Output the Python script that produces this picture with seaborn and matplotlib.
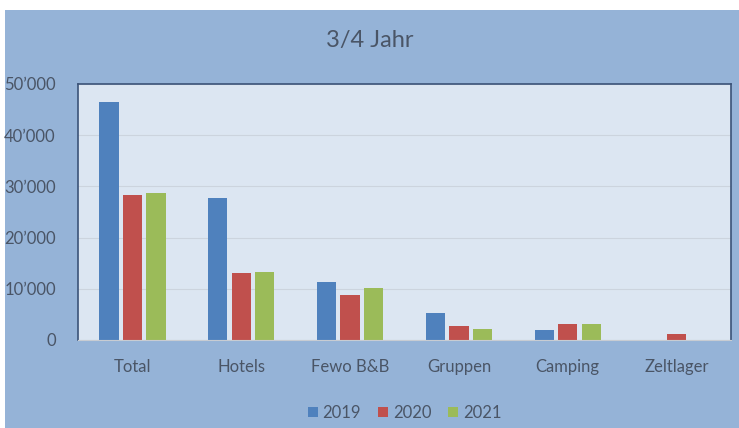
import pandas as pd
import seaborn as sns
import matplotlib.pyplot as plt
from matplotlib.patches import Rectangle
from matplotlib.ticker import FuncFormatter

# Values
categories = ['Total', 'Hotels', 'Fewo B&B', 'Gruppen', 'Camping', 'Zeltlager']
years = ['2019', '2020', '2021']
values_2019 = [46500, 27700, 11300, 5200, 2000, 0]
values_2020 = [28300, 13100, 8800, 2800, 3200, 1100]
values_2021 = [28700, 13300, 10200, 2100, 3200, 0]
colors = ['#4f81bd', '#c0504d', '#9bbb59']

df = pd.DataFrame({
    'Kategorie': categories * 3,
    'Jahr': [y for y in years for _ in categories],
    'Wert': values_2019 + values_2020 + values_2021,
})

sns.set_style('white')
plt.rcParams['font.family'] = ['Lato', 'DejaVu Sans']
text_col = '#4a5566'

fig = plt.figure(figsize=(7.39, 4.28), dpi=100, facecolor='white')
# blue chart frame below the white strip
fig.patches.append(Rectangle((5 / 739, 0), 1, 1 - 10 / 428, transform=fig.transFigure,
                             facecolor='#95b3d7', edgecolor='none', zorder=-5))

ax = fig.add_axes([78 / 739, 88 / 428, 653 / 739, 256 / 428])
ax.set_zorder(2)
ax.set_facecolor('#dce6f2')
sns.barplot(data=df, x='Kategorie', y='Wert', hue='Jahr', palette=colors,
            width=0.65, gap=0.18, saturation=1, linewidth=0, ax=ax)

ax.set_ylim(0, 50000)
ax.set_yticks(range(0, 50001, 10000))
ax.yaxis.set_major_formatter(FuncFormatter(lambda v, p: '0' if v == 0 else f"{int(v):,}".replace(',', '\u2019')))
ax.grid(axis='y', color='#ccd4de', linewidth=0.8)
ax.set_axisbelow(True)
ax.set_xlabel('')
ax.set_ylabel('')
ax.tick_params(axis='both', length=0, labelsize=12, colors=text_col)
ax.tick_params(axis='y', pad=16)
ax.tick_params(axis='x', pad=14)
for s in ['left', 'top', 'right']:
    ax.spines[s].set_color('#3b5378')
    ax.spines[s].set_linewidth(1.2)
ax.spines['bottom'].set_color('#c8ccd2')

fig.text(0.5, 1 - 40 / 428, '3/4 Jahr', ha='center', va='center', fontsize=17, color=text_col)

leg = ax.legend(loc='center', bbox_to_anchor=(0.5, -0.285), ncol=3, frameon=False,
                fontsize=12, handlelength=0.6, handleheight=0.6, handletextpad=0.3,
                columnspacing=1.0)
for t in leg.get_texts():
    t.set_color(text_col)

fig.savefig('out.png', dpi=100, facecolor=fig.get_facecolor())
